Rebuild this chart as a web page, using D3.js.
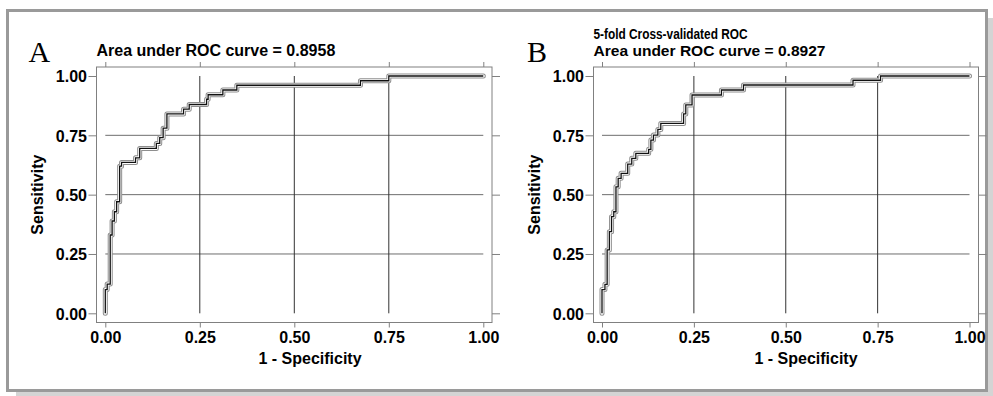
<!DOCTYPE html>
<html>
<head>
<meta charset="utf-8">
<script src="https://cdn.jsdelivr.net/npm/d3@7"></script>
<style>
  body { margin: 0; background: #fff; }
  svg { display: block; font-family: "Liberation Sans", Arial, sans-serif; }
</style>
</head>
<body>
<svg id="chart" width="993" height="396"></svg>
<script>
// ROC step points: x = end of the horizontal run, y = level reached before it
const fprA = [0, 0.005, 0.013, 0.018, 0.024, 0.030, 0.038, 0.043, 0.080, 0.091, 0.135, 0.144,
  0.153, 0.163, 0.207, 0.222, 0.268, 0.272, 0.311, 0.348, 0.675, 0.75, 1];
const tprA = [0, 0.10, 0.123, 0.33, 0.389, 0.428, 0.47, 0.62, 0.636, 0.655, 0.695, 0.716,
  0.74, 0.78, 0.84, 0.86, 0.88, 0.902, 0.921, 0.941, 0.961, 0.98, 1];

const fprB = [0, 0.008, 0.014, 0.02, 0.026, 0.032, 0.038, 0.044, 0.052, 0.070, 0.081, 0.092,
  0.127, 0.133, 0.14, 0.152, 0.16, 0.222, 0.228, 0.245, 0.325, 0.385, 0.683, 0.758, 1];
const tprB = [0, 0.10, 0.122, 0.267, 0.344, 0.407, 0.428, 0.533, 0.569, 0.59, 0.629, 0.653,
  0.674, 0.691, 0.73, 0.751, 0.775, 0.80, 0.84, 0.878, 0.92, 0.941, 0.962, 0.982, 1];

const tickValues = [0, 0.25, 0.5, 0.75, 1];
const tickLabels = ["0.00", "0.25", "0.50", "0.75", "1.00"];
const gridValues = [0.25, 0.5, 0.75];

const titlesA = ["Area under ROC curve = 0.8958"];
const titlesB = ["5-fold Cross-validated ROC", "Area under ROC curve = 0.8927"];

const svg = d3.select("#chart");

// outer figure border with soft shadow
svg.append("rect").attr("x", 16).attr("y", 18).attr("width", 977).attr("height", 378)
  .attr("fill", "#d4d4d4");
svg.append("rect").attr("x", 7.5).attr("y", 10.5).attr("width", 979).attr("height", 380)
  .attr("fill", "#fff").attr("stroke", "#9a9a9a").attr("stroke-width", 3);

function drawPanel(cfg) {
  const x = d3.scaleLinear().domain([0, 1]).range([cfg.x0, cfg.x1]);
  const y = d3.scaleLinear().domain([0, 1]).range([313.3, 76]);
  const fl = cfg.frameL, fr = cfg.frameR, ft = 67, fb = 322.5;
  const g = svg.append("g");
  const fmt = (d) => tickLabels[tickValues.indexOf(d)];

  // grid
  g.selectAll(".hg").data(gridValues).enter().append("line")
    .attr("x1", x(0)).attr("x2", x(1))
    .attr("y1", d => y(d)).attr("y2", d => y(d))
    .attr("stroke", "#6e6e6e").attr("stroke-width", 1);
  g.selectAll(".vg").data(gridValues).enter().append("line")
    .attr("x1", d => x(d)).attr("x2", d => x(d))
    .attr("y1", y(0)).attr("y2", y(1))
    .attr("stroke", "#333").attr("stroke-width", 1);

  // frame
  g.append("rect").attr("x", fl).attr("y", ft).attr("width", fr - fl).attr("height", fb - ft)
    .attr("fill", "none").attr("stroke", "#808080").attr("stroke-width", 1);

  // axes
  const left = g.append("g").attr("transform", `translate(${fl},0)`)
    .call(d3.axisLeft(y).tickValues(tickValues).tickFormat(fmt).tickSize(8).tickPadding(1.5));
  const right = g.append("g").attr("transform", `translate(${fr},0)`)
    .call(d3.axisRight(y).tickValues(tickValues).tickFormat("").tickSize(8));
  const top = g.append("g").attr("transform", `translate(0,${ft})`)
    .call(d3.axisTop(x).tickValues(tickValues).tickFormat("").tickSize(5));
  const bottom = g.append("g").attr("transform", `translate(0,${fb})`)
    .call(d3.axisBottom(x).tickValues(tickValues).tickFormat(fmt).tickSize(5).tickPadding(4));
  [left, right, top, bottom].forEach(a => {
    a.select(".domain").remove();
    a.selectAll("line").attr("stroke", "#808080");
    a.selectAll("text").attr("fill", "#000").attr("font-size", 16).attr("font-weight", "bold")
      .attr("font-family", "Liberation Sans, Arial, sans-serif");
  });
  left.selectAll("text").attr("dy", "0.36em");

  // ROC curve: beaded outline imitating the point markers, then the step line
  const pts = cfg.fpr.map((f, i) => [f, cfg.tpr[i]]);
  const line = d3.line().x(d => x(d[0])).y(d => y(d[1])).curve(d3.curveStepBefore);
  g.append("path").attr("d", line(pts)).attr("fill", "none")
    .attr("stroke", "#8e8e8e").attr("stroke-width", 5).attr("stroke-linejoin", "round")
    .attr("stroke-linecap", "round");
  g.append("path").attr("d", line(pts)).attr("fill", "none")
    .attr("stroke", "#fff").attr("stroke-width", 3).attr("stroke-linejoin", "round")
    .attr("stroke-linecap", "round");
  g.append("path").attr("d", line(pts)).attr("fill", "none")
    .attr("stroke", "#111").attr("stroke-width", 1.3);

  // titles
  cfg.titles.forEach((t, i) => {
    const tt = g.append("text").attr("x", fl).attr("y", cfg.titleY[i])
      .attr("font-size", cfg.titleSize).attr("font-weight", "bold").text(t);
    if (cfg.titleLen[i]) tt.attr("textLength", cfg.titleLen[i]).attr("lengthAdjust", "spacingAndGlyphs");
  });
  g.append("text").attr("x", cfg.letterX).attr("y", 61.5)
    .attr("font-family", "Liberation Serif, Times New Roman, serif").attr("font-size", 30)
    .text(cfg.letter);

  // axis titles
  g.append("text").attr("x", cfg.xTitleX).attr("y", 364).attr("text-anchor", "middle")
    .attr("font-size", 16).attr("font-weight", "bold").text("1 - Specificity");
  g.append("text").attr("transform", `translate(${cfg.yTitleX},${(y(0) + y(1)) / 2}) rotate(-90)`)
    .attr("text-anchor", "middle").attr("font-size", 16).attr("font-weight", "bold")
    .text("Sensitivity");
}

drawPanel({ fpr: fprA, tpr: tprA, x0: 105.3, x1: 483.3, frameL: 96.5, frameR: 492,
  titles: titlesA, titleY: [56], titleSize: 16, titleLen: [0],
  letter: "A", letterX: 28.5, xTitleX: 310, yTitleX: 43 });
drawPanel({ fpr: fprB, tpr: tprB, x0: 602, x1: 969.5, frameL: 593.5, frameR: 978.5,
  titles: titlesB, titleY: [38.5, 55.5], titleSize: 15, titleLen: [154, 232],
  letter: "B", letterX: 527, xTitleX: 806, yTitleX: 540 });
</script>
</body>
</html>
